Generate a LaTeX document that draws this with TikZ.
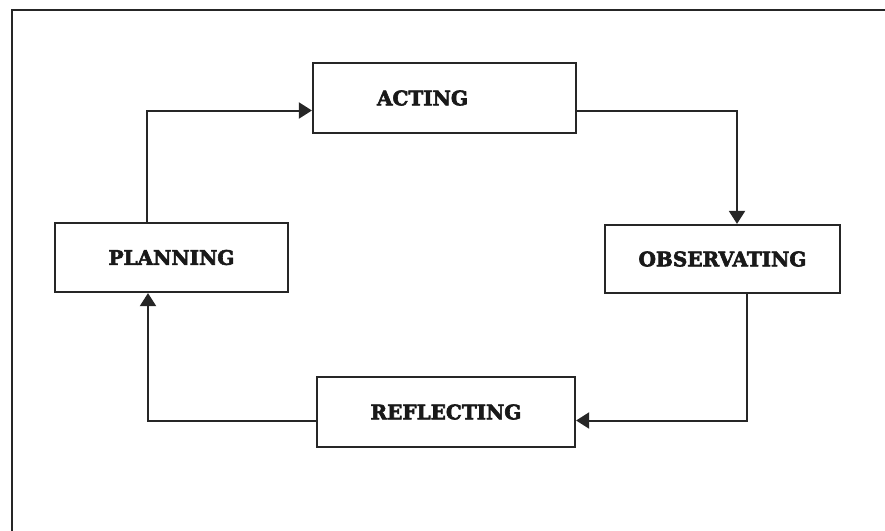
\documentclass[tikz,border=0pt]{standalone}
\usepackage{fontspec}
\newfontfamily\boxfont[FakeBold=3]{DejaVu Serif Bold}
\usetikzlibrary{arrows.meta}
\begin{document}
\begin{tikzpicture}[x=1pt,y=-1pt,
  stage/.style={draw=black!85, line width=2.2pt, fill=white, inner sep=0pt,
    font=\boxfont\fontsize{20}{24}\selectfont, text=black!90},
  link/.style={draw=black!85, line width=2pt, -{Triangle[length=13pt,width=16pt]}},
  frame/.style={draw=black!85, line width=2.2pt}]
\useasboundingbox (0,0) rectangle (885,530);
\draw[frame] (12,10) rectangle (900,545);
\node[stage, minimum width=263pt, minimum height=70pt] (acting) at (444.5,98) {ACTING\rule{44pt}{0pt}};
\node[stage, minimum width=233pt, minimum height=69pt] (planning) at (171.5,257.5) {PLANNING};
\node[stage, minimum width=235pt, minimum height=68pt] (observ) at (722.5,259) {OBSERVATING};
\node[stage, minimum width=258pt, minimum height=70pt] (reflect) at (446,412) {REFLECTING};
\coordinate (c1) at (147,110.5);
\coordinate (c2) at (737,110.5);
\coordinate (c3) at (747,420.5);
\coordinate (c4) at (148,420.5);
\draw[link] (planning.north -| c1) -- (c1) -- (acting.west |- c1);
\draw[link] (acting.east |- c2) -- (c2) -- (observ.north -| c2);
\draw[link] (observ.south -| c3) -- (c3) -- (reflect.east |- c3);
\draw[link] (reflect.west |- c4) -- (c4) -- (planning.south -| c4);
\end{tikzpicture}
\end{document}
